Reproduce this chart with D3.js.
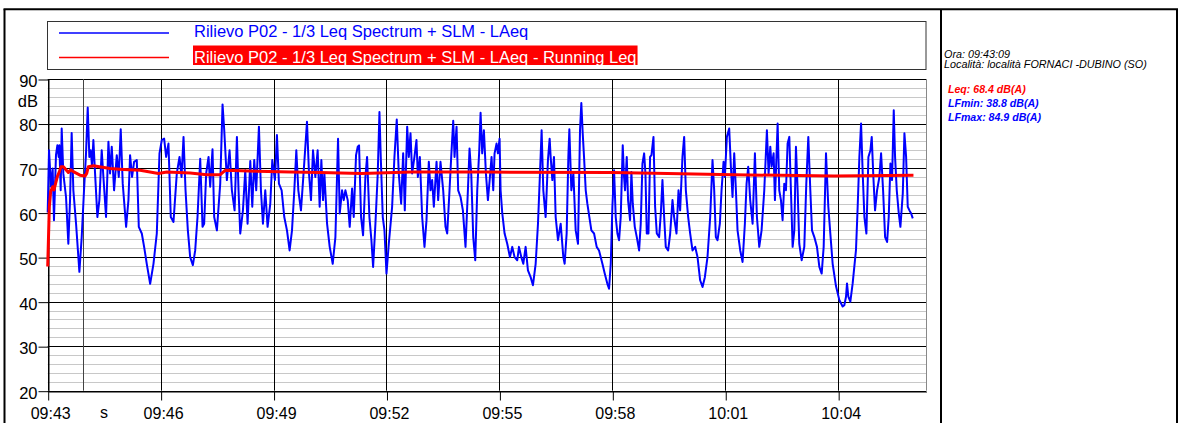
<!DOCTYPE html>
<html>
<head>
<meta charset="utf-8">
<script src="https://cdn.jsdelivr.net/npm/d3@7"></script>
<style>
  body { margin: 0; background: #fff; }
  svg { display: block; font-family: "Liberation Sans", Arial, sans-serif; }
</style>
</head>
<body>
<svg width="1183" height="423"></svg>
<script>
// time in seconds from 09:43:09
var laeqTime = [0, 2.1, 5.3, 7.9, 10.0, 13.2, 15.4, 17.5, 18.6, 20.7, 22.3, 24.9, 29.2, 32.9, 35.6, 38.2, 40.9, 45.2, 50.5, 54.2,
  57.9, 61.1, 63.8, 66.4, 68.6, 70.7, 72.8, 75.5, 79.2, 82.4, 86.1, 88.8, 93.0, 96.8, 99.4, 102.1, 105.8, 110.1, 113.3, 116.4,
  119.6, 125.0, 128.7, 131.3, 134.5, 137.7, 142.0, 145.2, 150.0, 153.7, 157.9, 163.3, 168.6, 173.9, 178.2, 181.9, 185.6, 188.8, 192.5, 196.2,
  200.5, 205.8, 210.1, 213.3, 216.5, 219.7, 223.4, 227.1, 231.4, 235.1, 238.8, 243.1, 246.8, 249.4, 252.6, 256.4, 259.0, 262.7, 265.4, 269.7,
  275.0, 278.7, 281.4, 285.6, 289.9, 293.6, 297.9, 301.6, 304.2, 306.9, 311.2, 314.9, 318.6, 322.9, 326.1, 329.2, 332.4, 336.7, 339.9, 343.1,
  346.8, 350.5, 354.8, 358.0, 362.2, 365.4, 368.6, 372.9, 377.1, 381.4, 385.6, 389.4, 393.1, 396.3, 399.5, 403.7, 406.9, 409.6, 413.3, 416.5,
  419.7, 422.9, 426.6, 430.3, 433.5, 436.2, 438.9, 441.0, 445.3, 449.5, 454.3, 458.6, 462.8, 465.5, 469.2, 471.9, 474.5, 478.2, 481.4, 485.2,
  487.8, 491.5, 494.2, 496.3, 499.5, 502.7, 506.4, 509.1, 512.8, 516.0, 518.7, 522.4, 526.1, 528.8, 530.9, 534.1, 536.8, 540.0, 543.7, 549.0,
  552.7, 556.4, 559.6, 563.4, 566.6, 569.2, 573.0, 575.6, 578.3, 580.9, 584.6, 587.8, 590.0, 593.2, 596.9, 600.6, 603.8, 607.5, 610.2, 612.8,
  615.5, 619.8, 622.4, 626.1, 630.4, 634.1, 636.8, 640.5, 643.2, 646.4, 648.5, 651.7, 654.3, 658.1, 661.8, 666.0, 669.8, 672.4, 675.1, 678.3,
  681.5, 684.7, 687.9, 690.0, 692.6, 695.3, 698.5, 701.7, 704.9, 707.5, 710.2, 712.3, 715.5, 717.6, 720.3, 721.9, 724.6, 728.3, 732.5, 736.8,
  740.5, 744.2, 748.5, 751.2, 754.9, 758.1, 761.8, 765.5, 769.8, 773.5, 777.8, 781.5, 784.7, 787.3, 790.0, 793.7, 797.4, 800.1, 801.7, 804.4,
  807.0, 809.7, 813.4, 817.7, 821.9, 824.0, 827.2, 829.9, 831.5, 834.7, 837.9, 841.6, 845.3, 848.5, 850.6, 852.8, 854.9, 857.6, 860.2, 863.4,
  866.6, 870.9, 875.1, 878.8, 884.2, 887.9, 892.1, 894.8, 897.5, 900.1, 902.8, 905.4, 908.1, 910.8, 913.4, 916.6, 918.7, 920.3, 923.0, 925.1,
  928.3, 930.4, 932.6, 935.8, 939.0, 942.7, 945.3, 948.0, 950.7, 952.8, 954.9, 957.6, 960.2, 962.4, 965.6, 968.2, 970.9, 974.6, 977.3, 979.9,
  982.6, 985.2, 989.0, 992.2, 995.9, 998.5, 1002.3, 1005.5, 1008.1, 1011.8, 1014.5, 1017.2, 1020.9, 1024.1, 1027.8, 1032.1, 1035.8, 1040.0, 1043.8, 1047.5,
  1051.7, 1056.0, 1059.7, 1062.4, 1065.0, 1067.7, 1071.4, 1074.1, 1077.3, 1079.4, 1082.6, 1086.3, 1089.0, 1091.6, 1094.3, 1097.0, 1099.6, 1103.9, 1107.6, 1111.3,
  1114.0, 1116.6, 1119.8, 1123.6, 1127.3, 1130.5, 1134.2, 1137.9, 1142.2, 1146.4, 1149.1, 1151.8, 1153.9, 1157.1, 1159.2, 1163.5, 1166.1, 1168.8, 1171.4, 1174.1,
  1176.8, 1179.4, 1182.1, 1184.7, 1187.4, 1190.1, 1192.7, 1195.4, 1198.0, 1201.8, 1206.0, 1209.2, 1212.4, 1215.6, 1218.3, 1222.0, 1226.2, 1230.0, 1233.7, 1236.9,
  1240.6, 1244.3, 1247.5, 1251.2, 1256.5, 1261.8, 1267.1, 1269.8, 1272.5, 1274.1, 1276.2, 1279.4, 1283.1, 1288.4, 1291.1, 1293.8, 1296.5, 1299.1, 1301.8, 1305.0,
  1308.2, 1311.4, 1313.5, 1316.1, 1318.8, 1322.0, 1325.7, 1328.4, 1331.6, 1334.8, 1338.0, 1340.6, 1343.3, 1345.9, 1348.6, 1350.7, 1353.4, 1356.6, 1359.2, 1363.0,
  1365.6, 1368.3, 1370.9, 1373.6, 1376.3, 1378.9];

var laeqDb = [60.0, 74.0, 65.8, 69.9, 58.3, 72.9, 75.1, 72.5, 75.1, 65.0, 78.9, 68.8, 63.5, 53.0, 62.8, 77.9, 65.0, 57.5, 46.7, 54.5,
  65.0, 73.3, 83.6, 72.5, 74.0, 70.3, 76.3, 68.8, 59.0, 62.8, 74.0, 68.0, 59.0, 75.9, 68.8, 74.8, 65.0, 72.9, 68.0, 78.7,
  66.5, 56.8, 62.8, 72.9, 68.0, 71.4, 71.8, 56.8, 55.3, 52.3, 48.5, 44.0, 48.5, 55.3, 73.3, 76.3, 76.6, 72.5, 75.5, 59.0,
  57.9, 68.8, 72.5, 68.0, 77.0, 65.0, 56.0, 50.0, 48.2, 51.5, 59.0, 72.1, 56.8, 57.5, 68.8, 72.5, 65.8, 74.2, 59.0, 56.0,
  66.5, 84.3, 78.5, 67.3, 74.0, 65.0, 60.5, 77.0, 65.0, 55.3, 60.5, 69.5, 57.5, 71.6, 61.3, 71.8, 65.0, 79.3, 65.0, 57.5,
  65.0, 56.8, 62.0, 71.8, 67.3, 77.4, 66.5, 65.0, 59.0, 56.0, 51.5, 56.0, 65.0, 74.0, 65.0, 60.5, 66.9, 72.5, 80.4, 68.8,
  62.8, 74.0, 68.0, 74.0, 61.3, 71.8, 62.8, 68.8, 57.5, 52.3, 48.5, 54.5, 76.6, 59.8, 65.0, 62.8, 65.0, 62.8, 56.8, 65.4,
  59.0, 72.9, 74.8, 75.1, 59.0, 54.9, 68.0, 72.5, 59.0, 53.8, 47.8, 57.5, 68.8, 82.6, 72.5, 59.0, 56.0, 46.3, 53.0, 61.3,
  72.5, 80.9, 68.8, 62.0, 73.3, 60.5, 79.3, 72.5, 77.8, 68.8, 72.5, 76.3, 68.0, 72.5, 59.0, 52.3, 58.3, 71.4, 65.0, 67.3,
  61.3, 71.4, 62.8, 71.4, 65.0, 56.8, 55.3, 65.0, 72.5, 80.6, 72.5, 79.3, 65.0, 63.5, 60.5, 52.3, 65.0, 74.4, 68.8, 54.5,
  49.3, 65.0, 74.0, 82.4, 73.3, 78.5, 68.8, 62.8, 68.0, 72.5, 65.0, 73.3, 75.5, 73.3, 76.6, 65.0, 59.8, 55.3, 53.0, 50.0,
  52.3, 50.0, 49.3, 52.3, 50.0, 48.5, 52.3, 47.0, 45.5, 43.7, 48.5, 57.5, 68.8, 78.5, 65.0, 59.0, 71.8, 76.6, 72.5, 67.3,
  72.5, 59.0, 53.8, 57.5, 50.0, 48.5, 55.3, 72.5, 78.7, 65.0, 68.8, 56.0, 53.0, 78.5, 84.6, 77.8, 72.5, 65.0, 62.0, 59.0,
  56.0, 55.3, 52.3, 51.5, 48.5, 46.3, 44.0, 42.9, 48.5, 61.3, 69.5, 59.0, 55.3, 53.8, 59.0, 75.1, 68.0, 65.0, 72.5, 62.8,
  58.3, 69.1, 62.0, 56.8, 54.5, 51.5, 57.5, 71.0, 73.3, 68.8, 55.3, 55.3, 72.5, 72.9, 77.0, 61.3, 55.3, 54.5, 59.8, 67.3,
  59.0, 52.3, 51.5, 55.3, 62.8, 59.0, 55.3, 65.0, 60.5, 72.5, 77.0, 65.0, 59.0, 55.3, 51.5, 52.3, 50.0, 44.8, 43.3, 45.5,
  50.0, 59.0, 71.8, 65.0, 54.5, 53.8, 57.5, 65.0, 71.4, 68.0, 77.0, 78.9, 70.3, 63.5, 73.3, 65.0, 56.0, 51.5, 48.9, 57.5,
  66.5, 70.3, 62.8, 57.5, 73.3, 59.0, 52.3, 56.0, 65.0, 78.5, 68.8, 74.8, 70.3, 73.3, 62.8, 80.0, 65.0, 62.8, 58.3, 66.5,
  65.0, 75.5, 77.0, 65.0, 52.3, 56.0, 74.8, 65.0, 53.0, 49.3, 52.3, 66.5, 77.0, 65.0, 56.0, 54.5, 52.3, 47.8, 46.3, 52.3,
  73.3, 61.3, 55.3, 48.5, 43.5, 40.4, 38.9, 39.2, 41.1, 44.1, 41.1, 40.0, 44.1, 51.6, 61.3, 72.5, 80.0, 68.8, 59.0, 55.3,
  72.5, 74.0, 77.0, 68.0, 60.5, 65.0, 68.0, 73.3, 65.0, 54.5, 53.4, 59.0, 71.0, 67.3, 83.0, 72.5, 65.0, 59.8, 56.8, 64.3,
  77.8, 72.5, 61.3, 60.5, 59.8, 58.7];

var runTime = [0, 2.6, 4.7, 7.9, 10.1, 12.7, 15.4, 18.6, 21.2, 25.0, 29.2, 32.9, 36.7, 40.9, 46.2, 51.5, 59.5, 62.2, 64.8, 72.8,
  99.4, 120.7, 147.3, 176.6, 189.9, 227.1, 253.7, 275.0, 283.0, 333.5, 386.7, 433.5, 500, 580, 700, 900, 988, 1094, 1254, 1380];
var runDb = [47.9, 61.3, 64.7, 65.8, 65.1, 66.6, 68.1, 69.2, 70.3, 70.3, 69.6, 69.0, 69.6, 69.2, 68.8, 68.4, 68.2, 68.8, 70.3, 70.5,
  69.9, 69.7, 69.5, 68.8, 69.1, 68.9, 68.5, 68.5, 69.5, 69.3, 69.1, 69.0, 68.8, 69.1, 69.1, 69.0, 68.8, 68.5, 68.2, 68.4];

var tickSec = [0, 180, 360, 540, 720, 900, 1080, 1260];
var tickLabels = ["09:43", "09:46", "09:49", "09:52", "09:55", "09:58", "10:01", "10:04"];
var yTicks = [20, 30, 40, 50, 60, 70, 80, 90];
var markerSec = [57];
var seriesNames = ["Rilievo P02 - 1/3 Leq Spectrum + SLM - LAeq", "Rilievo P02 - 1/3 Leq Spectrum + SLM - LAeq - Running Leq"];
var infoLines = ["Ora: 09:43:09", "Località: località FORNACI -DUBINO (SO)"];
var statLines = ["Leq: 68.4 dB(A)", "LFmin: 38.8 dB(A)", "LFmax: 84.9 dB(A)"];
var statColors = ["#ff0000", "#0000ff", "#0000ff"];

function drawChart() {
  var svg = d3.select("svg");
  var pLeft = 47.7, pRight = 926, pTop = 79, pBottom = 390.7;

  var x = d3.scaleLinear().domain([0, 1400]).range([pLeft, pRight]);
  var y = d3.scaleLinear().domain([20, 90]).range([pBottom, pTop]);

  // outer frame
  var frame = svg.append("g").attr("stroke", "#000").attr("stroke-width", 2);
  frame.append("line").attr("x1", 4.5).attr("x2", 4.5).attr("y1", 9.3).attr("y2", 423);
  frame.append("line").attr("x1", 3.5).attr("x2", 1178).attr("y1", 9.3).attr("y2", 9.3);
  frame.append("line").attr("x1", 941).attr("x2", 941).attr("y1", 9.3).attr("y2", 423);
  frame.append("line").attr("x1", 1177).attr("x2", 1177).attr("y1", 9.3).attr("y2", 423);

  var snap = function(v) { return Math.round(v) + 0.5; };

  // minor horizontal grid every 2 dB
  var grid = svg.append("g");
  grid.selectAll(".minor")
    .data(d3.range(22, 90, 2).filter(function(d) { return d % 10 != 0; }))
    .enter().append("line")
    .attr("x1", pLeft).attr("x2", pRight)
    .attr("y1", function(d) { return snap(y(d)); })
    .attr("y2", function(d) { return snap(y(d)); })
    .attr("stroke", "#c8c8c8").attr("stroke-width", 1);

  grid.selectAll(".major")
    .data(yTicks)
    .enter().append("line")
    .attr("x1", pLeft).attr("x2", pRight)
    .attr("y1", function(d) { return snap(y(d)); })
    .attr("y2", function(d) { return snap(y(d)); })
    .attr("stroke", "#000").attr("stroke-width", 1);

  grid.selectAll(".vmajor")
    .data(tickSec)
    .enter().append("line")
    .attr("x1", function(d) { return snap(x(d)); })
    .attr("x2", function(d) { return snap(x(d)); })
    .attr("y1", pTop).attr("y2", pBottom)
    .attr("stroke", "#000").attr("stroke-width", 1);

  grid.selectAll(".marker")
    .data(markerSec)
    .enter().append("line")
    .attr("x1", function(d) { return snap(x(d)); })
    .attr("x2", function(d) { return snap(x(d)); })
    .attr("y1", pTop).attr("y2", pBottom)
    .attr("stroke", "#444").attr("stroke-width", 1);

  grid.append("line")
    .attr("x1", snap(pRight)).attr("x2", snap(pRight))
    .attr("y1", pTop).attr("y2", pBottom)
    .attr("stroke", "#888").attr("stroke-width", 1);

  // axes
  var yAxis = d3.axisLeft(y).tickValues(yTicks).tickSize(10).tickSizeOuter(0).tickPadding(1);
  var gy = svg.append("g").attr("transform", "translate(" + snap(pLeft) + ",0.5)").call(yAxis);
  gy.selectAll("text").attr("font-size", "16.5px").attr("fill", "#000")
    .attr("font-family", "Liberation Sans, Arial, sans-serif").attr("dy", "0.42em");
  gy.selectAll("line, path").attr("stroke", "#000");

  svg.append("text")
    .attr("x", Math.round(pLeft) - 10).attr("y", y(85))
    .attr("dy", "0.35em")
    .attr("text-anchor", "end")
    .attr("font-size", "16.5px")
    .text("dB");

  var xAxis = d3.axisBottom(x).tickValues(tickSec)
    .tickFormat(function(d, i) { return tickLabels[i]; })
    .tickSize(9).tickSizeOuter(0).tickPadding(7);
  var gx = svg.append("g").attr("transform", "translate(0.5," + snap(pBottom) + ")").call(xAxis);
  gx.selectAll("text").attr("font-size", "16px").attr("fill", "#000")
    .attr("font-family", "Liberation Sans, Arial, sans-serif").attr("dx", 2);
  gx.selectAll("line, path").attr("stroke", "#000");

  svg.append("text")
    .attr("x", 104).attr("y", 418)
    .attr("text-anchor", "middle")
    .attr("font-size", "16px")
    .text("s");

  // series
  var laeqLine = d3.line()
    .x(function(d, i) { return x(laeqTime[i]); })
    .y(function(d) { return y(d); });
  svg.append("path")
    .attr("d", laeqLine(laeqDb))
    .attr("fill", "none").attr("stroke", "#0000ff")
    .attr("stroke-width", 2).attr("stroke-linejoin", "round");

  var runLine = d3.line()
    .x(function(d, i) { return x(runTime[i]); })
    .y(function(d) { return y(d); });
  svg.append("path")
    .attr("d", runLine(runDb))
    .attr("fill", "none").attr("stroke", "#ff0000")
    .attr("stroke-width", 3).attr("stroke-linejoin", "round");

  // legend
  var legend = svg.append("g");
  legend.append("rect")
    .attr("x", 47.5).attr("y", 21.5).attr("width", 878.5).attr("height", 48)
    .attr("fill", "none").attr("stroke", "#333").attr("stroke-width", 1);
  var legColors = ["#0000ff", "#ff0000"];
  var legY = [33, 57.5];
  seriesNames.forEach(function(name, i) {
    legend.append("line")
      .attr("x1", 59).attr("x2", 169)
      .attr("y1", legY[i]).attr("y2", legY[i])
      .attr("stroke", legColors[i]).attr("stroke-width", 1.3);
    var bg = legend.append("rect");
    var t = legend.append("text")
      .attr("x", 194).attr("y", legY[i] + 4 + i * 1.5)
      .attr("font-size", "16.5px")
      .attr("fill", i == 0 ? "#0000ff" : "#fff")
      .text(name);
    if (i == 1) {
      var w = t.node().getComputedTextLength();
      bg.attr("x", 193).attr("y", 45.5).attr("width", w + 2).attr("height", 19.5).attr("fill", "#ff0000");
    } else {
      bg.remove();
    }
  });

  // info panel
  var info = svg.append("g").attr("font-style", "italic").attr("font-size", "10.8px");
  info.selectAll(".info")
    .data(infoLines)
    .enter().append("text")
    .attr("x", 944).attr("y", function(d, i) { return 57.5 + i * 10.7; })
    .attr("fill", "#000")
    .text(function(d) { return d; });
  info.selectAll(".stat")
    .data(statLines)
    .enter().append("text")
    .attr("x", 948).attr("y", function(d, i) { return 93 + i * 14.2; })
    .attr("font-weight", "bold")
    .attr("font-size", "10.6px")
    .attr("fill", function(d, i) { return statColors[i]; })
    .text(function(d) { return d; });
}

drawChart();
</script>
</body>
</html>
